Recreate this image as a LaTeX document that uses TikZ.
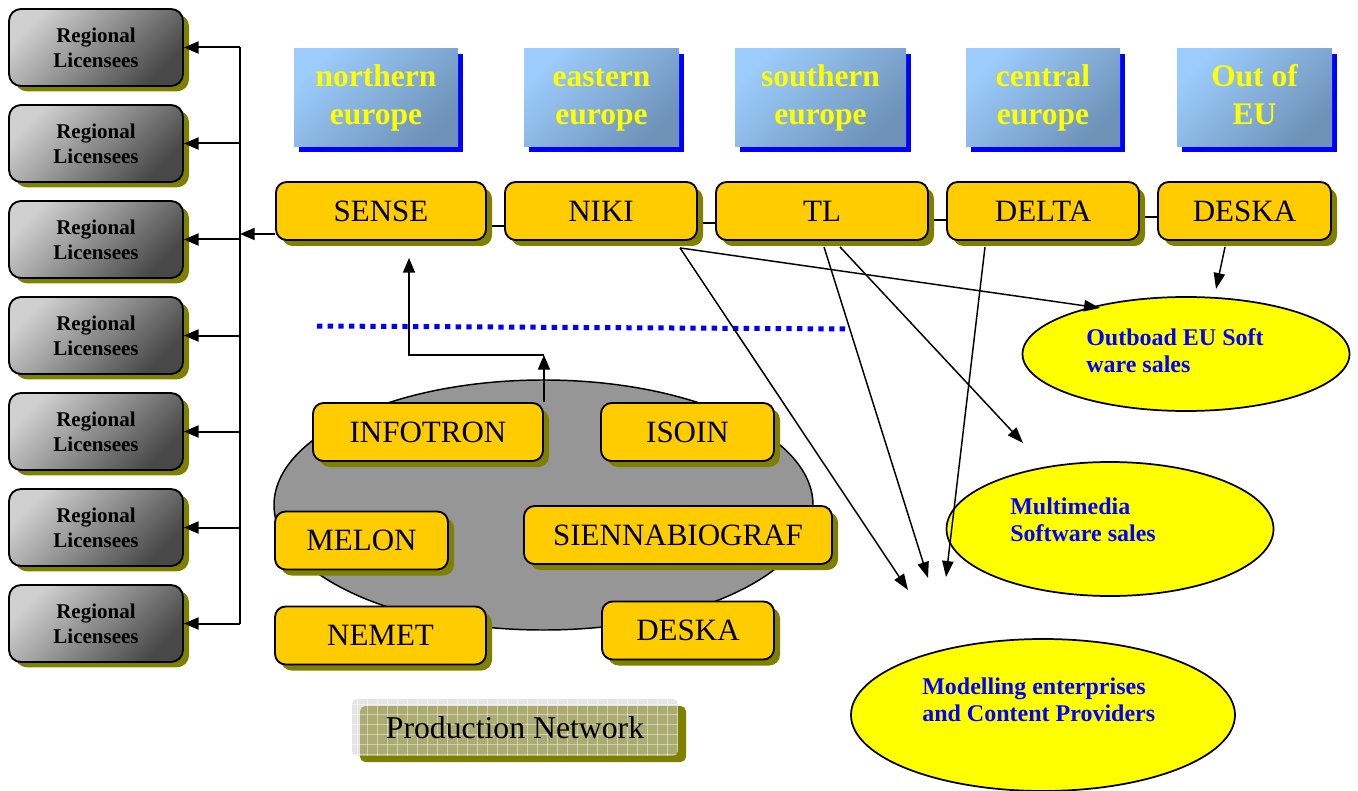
\documentclass[tikz,border=0pt]{standalone}
\usepackage{fontspec}
\setmainfont{Liberation Serif}
\usetikzlibrary{arrows.meta,shapes.geometric,shadows,backgrounds}
\definecolor{boxyellow}{HTML}{FFCC00}
\definecolor{shadowolive}{HTML}{808000}
\definecolor{hdrlight}{HTML}{9CCCFC}
\definecolor{hdrdark}{HTML}{6E92B8}
\definecolor{lglight}{HTML}{D0D0D0}
\definecolor{lgdark}{HTML}{484848}
\definecolor{ellyellow}{HTML}{FFFF00}
\definecolor{txtblue}{HTML}{0000FF}
\definecolor{prodgray}{HTML}{969696}
\definecolor{gridgray}{HTML}{D0D0D0}
\begin{document}
\begin{tikzpicture}[x=0.75pt,y=-0.75pt,
  lic/.style={draw=black, line width=1.4pt, rounded corners=9pt,
    minimum width=130.5pt, minimum height=57.75pt,
    top color=lglight, bottom color=lgdark, shading angle=45,
    drop shadow={shadow xshift=4.5pt, shadow yshift=-4pt, fill=shadowolive, opacity=1},
    font=\fontsize{15.75}{18.75}\selectfont\bfseries, align=center, inner sep=0pt},
  hdr/.style={minimum height=73.5pt,
    top color=hdrlight, bottom color=hdrdark, shading angle=45,
    drop shadow={shadow xshift=3.75pt, shadow yshift=-3.75pt, fill=blue, opacity=1},
    font=\fontsize{23.6}{28.5}\selectfont\bfseries, text=ellyellow, align=center, inner sep=0pt},
  ybox/.style={draw=black, line width=1.4pt, rounded corners=8pt, fill=boxyellow,
    minimum height=43.5pt,
    drop shadow={shadow xshift=4.5pt, shadow yshift=-4.5pt, fill=shadowolive, opacity=1},
    font=\fontsize{23.25}{28}\selectfont, inner sep=0pt},
  yell/.style={ellipse, draw=black, line width=1.3pt, fill=ellyellow, inner sep=0pt},
  elltxt/.style={font=\fontsize{18}{20.5}\selectfont\bfseries, text=txtblue, align=left, inner sep=0pt, anchor=west},
  larr/.style={line width=1.5pt, -{Triangle[length=11pt,width=9pt]}},
  darr/.style={line width=1.1pt, -{Triangle[length=12pt,width=8.5pt]}},
  bline/.style={line width=1.5pt},
  link/.style={line width=1.2pt}
]
\useasboundingbox (0,0) rectangle (1358,791);

% ---- production area ----
\node[ellipse, draw=black, line width=1.1pt, fill=prodgray, minimum width=404.25pt,
      minimum height=187.5pt, inner sep=0pt] (prodarea) at (543.5,505) {};

\node[ybox, minimum width=172.5pt] (infotron) at (428,432) {INFOTRON};
\node[ybox, minimum width=129.75pt] (isoin) at (687.5,432) {ISOIN};
\node[ybox, minimum width=129.75pt] (melon) at (361.5,540.5) {MELON};
\node[ybox, minimum width=231pt] (sienna) at (678,535) {SIENNABIOGRAF};
\node[ybox, minimum width=158.25pt] (nemet) at (380.5,635.5) {NEMET};
\node[ybox, minimum width=129pt] (deskab) at (688,630.5) {DESKA};

% ---- regional licensees ----
\foreach \i in {1,...,7} {
  \node[lic] (lic\i) at (96,{47.5+96*(\i-1)}) {Regional\\Licensees};
  \coordinate (bus\i) at (240,{47.5+96*(\i-1)});
}

% ---- region headers ----
\node[hdr, minimum width=123pt] (north) at (376,98) {\strut northern\\\strut europe};
\node[hdr, minimum width=116.25pt] (east) at (601.5,98) {\strut eastern\\\strut europe};
\node[hdr, minimum width=128.25pt] (south) at (820.5,98) {\strut southern\\\strut europe};
\node[hdr, minimum width=115.5pt] (central) at (1043,98) {\strut central\\\strut europe};
\node[hdr, minimum width=116.25pt] (outeu) at (1254.5,98) {\strut Out of\\\strut EU};

% ---- company row ----
\node[ybox, minimum width=157.5pt] (sense) at (381,211) {SENSE};
\node[ybox, minimum width=144pt] (niki) at (601,211) {NIKI};
\node[ybox, minimum width=159pt] (tl) at (822,211) {TL};
\node[ybox, minimum width=144pt] (delta) at (1043,211) {DELTA};
\node[ybox, minimum width=129.75pt] (deska) at (1244.5,211) {DESKA};

\begin{scope}[on background layer]
  \draw[link] ([yshift=-11.25pt]sense.east) -- ([yshift=-11.25pt]niki.west);
  \draw[link] ([yshift=-9pt]niki.east) -- ([yshift=-9pt]tl.west);
  \draw[link] ([yshift=-6.75pt]tl.east) -- ([yshift=-6.75pt]delta.west);
  \draw[link] ([yshift=-4.5pt]delta.east) -- ([yshift=-4.5pt]deska.west);
\end{scope}

% ---- market ellipses ----
\node[yell, minimum width=245.25pt, minimum height=85.5pt] (outboad) at (1186,354) {};
\node[elltxt] (outboadtxt) at (1086,350.5) {Outboad EU Soft\\ware sales};
\node[yell, minimum width=245.25pt, minimum height=100.5pt] (multimedia) at (1110,529) {};
\node[elltxt] (multimediatxt) at (1010,520) {Multimedia\\Software sales};
\node[yell, minimum width=288pt, minimum height=114pt] (modelling) at (1043,715) {};
\node[elltxt] (modellingtxt) at (922,699.5) {Modelling enterprises\\and Content Providers};

% ---- dotted divider ----
\draw[blue, line width=3.75pt, dash pattern=on 4pt off 4pt] (317,326) -- (850,329);

% ---- production network label ----
\fill[shadowolive, rounded corners=4pt] (360,706) rectangle (686,762);
\begin{scope}
  \clip[rounded corners=4pt] (352,699) rectangle (678,756);
  \fill[gridgray, opacity=.55] (352,699) rectangle (678,756);
  \foreach \gx in {357,367,...,677} \draw[white, opacity=.45, line width=.5pt] (\gx,699) -- (\gx,756);
  \foreach \gy in {704,714,...,754} \draw[white, opacity=.45, line width=.5pt] (352,\gy) -- (678,\gy);
\end{scope}
\node[font=\fontsize{23.8}{28}\selectfont, inner sep=0pt] (prodnet) at (515,728) {Production Network};

% ---- licensee bus ----
\draw[bline] (bus1) -- (bus7);
\foreach \i in {1,...,7} { \draw[larr] (bus\i) -- (lic\i.east); }
\coordinate (senseOut) at ([yshift=-17.25pt]sense.west);
\coordinate (busS) at (240,234);
\draw[larr] (senseOut) -- (busS);

% ---- infotron to sense ----
\coordinate (cornerA) at (544,355);
\coordinate (senseIn) at (409,258);
\draw[larr, line width=1.3pt] (infotron.north east) -- (infotron.north east |- cornerA);
\draw[larr, line width=1.3pt] (infotron.north east |- cornerA) -| (senseIn);

% ---- distribution arrows ----
\coordinate (nikiOut) at ([xshift=59.25pt,yshift=-5.25pt]niki.south);
\coordinate (tlA) at ([xshift=1.5pt,yshift=-4.5pt]tl.south);
\coordinate (tlB) at ([xshift=13.5pt,yshift=-4.5pt]tl.south);
\coordinate (deltaOut) at ([xshift=-43.5pt,yshift=-4.5pt]delta.south);
\coordinate (deskaOut) at ([xshift=-14.6pt,yshift=-4.5pt]deska.south);
\coordinate (tipOut) at (1100,308);
\coordinate (tipMod1) at (908,590);
\coordinate (tipMod2) at (928,578);
\coordinate (tipMod3) at (946,577);
\coordinate (tipMulti) at (1023,443);
\coordinate (tipDeska) at (1216,289);
\draw[darr] (nikiOut) -- (tipOut);
\draw[darr] (nikiOut) -- (tipMod1);
\draw[darr] (tlA) -- (tipMod2);
\draw[darr] (tlB) -- (tipMulti);
\draw[darr] (deltaOut) -- (tipMod3);
\draw[darr] (deskaOut) -- (tipDeska);
\end{tikzpicture}
\end{document}
